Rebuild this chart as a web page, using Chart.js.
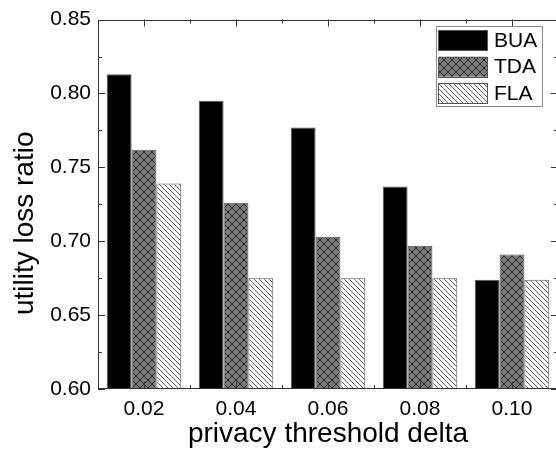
<!DOCTYPE html>
<html>
<head>
<meta charset="utf-8">
<script src="https://cdn.jsdelivr.net/npm/chart.js@4/dist/chart.umd.min.js"></script>
<style>
  html, body { margin: 0; padding: 0; background: #fff; overflow: hidden; }
  canvas { display: block; }
</style>
</head>
<body>
<canvas id="chart" width="560" height="453"></canvas>
<script>
"use strict";

const FONT = '"Liberation Sans", Arial, sans-serif';

// data
const categories = ['0.02', '0.04', '0.06', '0.08', '0.10'];
const seriesNames = ['BUA', 'TDA', 'FLA'];
const buaValues = [0.813, 0.795, 0.777, 0.737, 0.674];
const tdaValues = [0.762, 0.726, 0.703, 0.697, 0.691];
const flaValues = [0.739, 0.675, 0.675, 0.675, 0.674];
const yMin = 0.60;
const yMax = 0.85;
const yStep = 0.05;
const xTitle = 'privacy threshold delta';
const yTitle = 'utility loss ratio';

/**
 * Gray fill with a black diagonal cross hatch.
 */
function crossHatch() {
  const s = 8;
  const c = document.createElement('canvas');
  c.width = s;
  c.height = s;
  const g = c.getContext('2d');
  g.fillStyle = '#7a7a7a';
  g.fillRect(0, 0, s, s);
  g.strokeStyle = '#1e1e1e';
  g.lineWidth = 0.9;
  g.beginPath();
  for (let k = -1; k <= 1; k++) {
    g.moveTo(0, k * s);
    g.lineTo(s, s + k * s);
    g.moveTo(0, s + k * s);
    g.lineTo(s, k * s);
  }
  g.stroke();
  return g.createPattern(c, 'repeat');
}

/**
 * White fill with thin back-slash lines.
 */
function backHatch() {
  const s = 5;
  const c = document.createElement('canvas');
  c.width = s;
  c.height = s;
  const g = c.getContext('2d');
  g.fillStyle = '#ffffff';
  g.fillRect(0, 0, s, s);
  g.strokeStyle = '#3a3a3a';
  g.lineWidth = 0.8;
  g.beginPath();
  for (let k = -1; k <= 1; k++) {
    g.moveTo(0, k * s);
    g.lineTo(s, s + k * s);
  }
  g.stroke();
  return g.createPattern(c, 'repeat');
}

const fills = ['#000000', crossHatch(), backHatch()];

// frame with inward ticks on all four sides
const framePlugin = {
  id: 'frame',
  afterDatasetsDraw(chart) {
    const { ctx, chartArea: a, scales: { x, y } } = chart;
    ctx.save();
    ctx.strokeStyle = '#333';
    ctx.lineWidth = 1;
    ctx.strokeRect(Math.round(a.left) + 0.5, Math.round(a.top) + 0.5,
      Math.round(a.right - a.left) - 1, Math.round(a.bottom - a.top) - 1);
    ctx.beginPath();
    const n = Math.round((yMax - yMin) / (yStep / 2));
    for (let i = 0; i <= n; i++) {
      const py = Math.round(y.getPixelForValue(yMin + i * yStep / 2)) + 0.5;
      const len = i % 2 === 0 ? 7 : 4;
      ctx.moveTo(a.left, py);
      ctx.lineTo(a.left + len, py);
      ctx.moveTo(a.right, py);
      ctx.lineTo(a.right - len, py);
    }
    const half = (x.getPixelForValue(1) - x.getPixelForValue(0)) / 2;
    categories.forEach((c, i) => {
      const px = Math.round(x.getPixelForValue(i)) + 0.5;
      ctx.moveTo(px, a.bottom);
      ctx.lineTo(px, a.bottom - 7);
      ctx.moveTo(px, a.top);
      ctx.lineTo(px, a.top + 7);
      if (i < categories.length - 1) {
        const mx = Math.round(x.getPixelForValue(i) + half) + 0.5;
        ctx.moveTo(mx, a.bottom);
        ctx.lineTo(mx, a.bottom - 4);
        ctx.moveTo(mx, a.top);
        ctx.lineTo(mx, a.top + 4);
      }
    });
    ctx.stroke();
    ctx.restore();
  }
};

// boxed legend in the top right corner and the rotated y title
const legendPlugin = {
  id: 'boxLegend',
  afterDraw(chart) {
    const { ctx, chartArea: a } = chart;
    ctx.save();
    const bx = 436.5, by = 26.5, bw = 106, bh = 80;
    ctx.fillStyle = '#fff';
    ctx.fillRect(bx, by, bw, bh);
    ctx.strokeStyle = '#8a8a8a';
    ctx.lineWidth = 1;
    ctx.strokeRect(bx, by, bw, bh);
    ctx.font = '21px ' + FONT;
    ctx.textBaseline = 'middle';
    chart.data.datasets.forEach((ds, i) => {
      const ry = 30 + i * 26.7;
      ctx.fillStyle = ds.backgroundColor;
      ctx.fillRect(438.5, ry, 49, 20);
      ctx.strokeStyle = '#555';
      ctx.strokeRect(438.5, Math.round(ry) + 0.5, 49, 20);
      ctx.fillStyle = '#000';
      ctx.fillText(ds.label, 494, ry + 11);
    });

    ctx.translate(33, (a.top + a.bottom) / 2 + 19);
    ctx.rotate(-Math.PI / 2);
    ctx.font = '28px ' + FONT;
    ctx.textAlign = 'center';
    ctx.textBaseline = 'alphabetic';
    ctx.fillStyle = '#000';
    ctx.fillText(yTitle, 0, 0);
    ctx.restore();
  }
};

new Chart(document.getElementById('chart'), {
  type: 'bar',
  data: {
    labels: categories,
    datasets: [buaValues, tdaValues, flaValues].map((values, i) => ({
      label: seriesNames[i],
      data: values,
      backgroundColor: fills[i],
      borderColor: '#555',
      borderWidth: 1,
      borderSkipped: false,
      barPercentage: 1,
      categoryPercentage: 0.81
    }))
  },
  options: {
    responsive: false,
    animation: false,
    events: [],
    layout: { padding: { top: 15, right: 2, left: 0, bottom: 0 } },
    plugins: {
      legend: { display: false },
      tooltip: { enabled: false }
    },
    scales: {
      x: {
        grid: { display: false, drawTicks: false },
        border: { display: false },
        ticks: { color: '#000', padding: 8, font: { family: FONT, size: 21 } },
        title: {
          display: true,
          text: xTitle,
          color: '#000',
          padding: { top: 0, bottom: 2 },
          font: { family: FONT, size: 28 }
        },
        afterFit(scale) { scale.height = 64; }
      },
      y: {
        min: yMin,
        max: yMax,
        grid: { display: false, drawTicks: false },
        border: { display: false },
        ticks: {
          stepSize: yStep,
          color: '#000',
          padding: 7,
          font: { family: FONT, size: 21 },
          callback: v => v.toFixed(2)
        },
        afterFit(scale) { scale.width = 98; }
      }
    }
  },
  plugins: [framePlugin, legendPlugin]
});
</script>
</body>
</html>
